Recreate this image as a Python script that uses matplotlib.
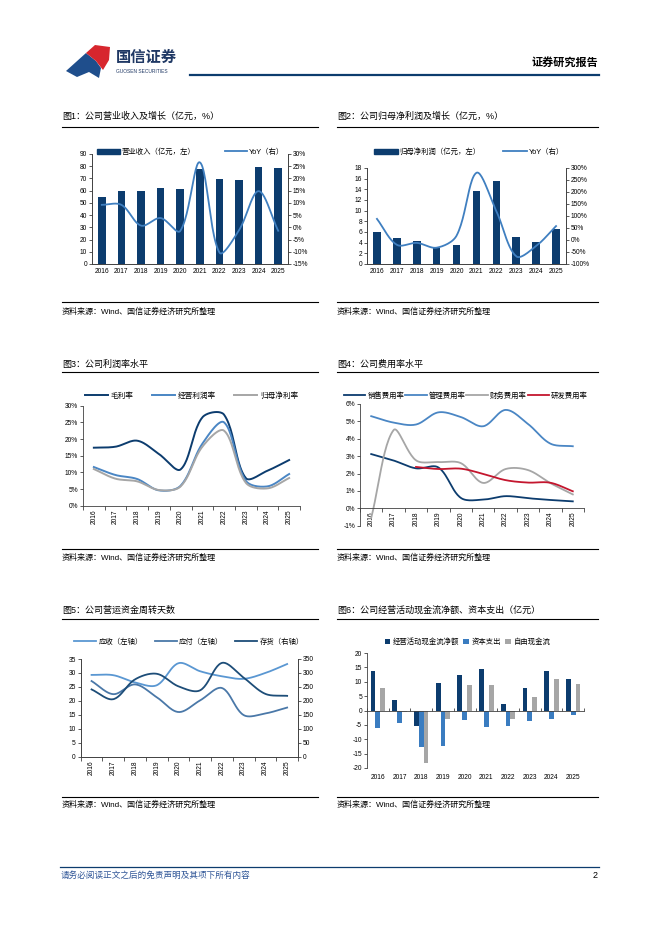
import numpy as np
import matplotlib.pyplot as plt
from matplotlib.patches import Polygon, Patch
from matplotlib.lines import Line2D
from matplotlib.ticker import FuncFormatter

plt.rcParams['font.family'] = ['Liberation Sans', 'Noto Sans CJK SC']
plt.rcParams['axes.unicode_minus'] = False

# ---- data ----
years = ['2016', '2017', '2018', '2019', '2020', '2021', '2022', '2023', '2024', '2025']

revenue = [54.5, 59.5, 59.8, 62.0, 61.3, 77.5, 69.8, 68.8, 79.5, 78.5]
revenue_yoy = [9.2, 9.2, 0.7, 3.8, -1.5, 26.6, -10.3, -1.2, 14.8, -1.4]

net_profit = [6.0, 4.8, 4.3, 3.0, 3.6, 13.7, 15.6, 5.0, 4.1, 6.5]
profit_yoy = [88, -20, -12, -32, 18, 280, 120, -68, -25, 58]

gross_margin = [17.4, 17.7, 19.5, 15.5, 10.9, 26.5, 27.3, 8.3, 10.5, 13.7]
op_margin = [11.6, 9.2, 8.0, 4.6, 6.0, 18.6, 25.0, 7.5, 5.8, 9.5]
net_margin = [11.0, 8.1, 7.3, 4.7, 5.8, 17.7, 22.5, 6.9, 5.2, 8.3]

sales_ratio = [3.12, 2.75, 2.3, 2.35, 0.6, 0.5, 0.7, 0.58, 0.48, 0.4]
admin_ratio = [5.3, 4.93, 4.82, 5.52, 5.25, 4.72, 5.66, 4.85, 3.72, 3.57]
fin_ratio = [-0.55, 4.5, 2.76, 2.66, 2.6, 1.46, 2.26, 2.2, 1.45, 0.8]
rd_ratio = [np.nan, np.nan, 2.38, 2.26, 2.28, 1.98, 1.62, 1.48, 1.47, 0.98]

receivable_days = [29.3, 29.2, 26.6, 25.6, 33.5, 30.6, 28.8, 27.9, 30.0, 33.2]
payable_days = [27.1, 22.4, 25.9, 21.3, 16.0, 20.2, 24.6, 14.9, 15.5, 17.6]
inventory_days = [241, 206, 277, 297, 252, 238, 336, 283, 225, 218]

op_cash = [13.8, 3.8, -5.5, 9.5, 12.2, 14.5, 2.4, 8.0, 13.8, 10.8]
capex = [-6.0, -4.2, -12.7, -12.3, -3.2, -5.8, -5.4, -3.5, -2.8, -1.5]
free_cash = [7.8, -0.4, -18.3, -2.8, 9.0, 8.8, -3.0, 4.6, 11.0, 9.2]

NAVY = '#0C3C6E'
BLUE = '#3F7FC0'
MID = '#4A86C4'
GREY = '#A6A6A6'
RED = '#C4162E'
AXC = '#404040'

W, H = 662, 936
fig = plt.figure(figsize=(W / 100, H / 100), dpi=100)
fig.patch.set_facecolor('white')


def fx(x):
    return x / W


def fy(y):
    return 1 - y / H


def box(x0, y0, x1, y1):
    return [x0 / W, 1 - y1 / H, (x1 - x0) / W, (y1 - y0) / H]


def hline(x0, x1, y, color='black', lw=0.8):
    fig.add_artist(Line2D([fx(x0), fx(x1)], [fy(y), fy(y)],
                          transform=fig.transFigure, color=color, lw=lw))


def smooth(ax, xs, ys, n=24):
    # bezier smoothing in screen space, control arms weighted by chord length
    # (close to what excel does with "smoothed line")
    xs = np.asarray(xs, float)
    ys = np.asarray(ys, float)
    ok = ~np.isnan(ys)
    d = ax.transData.transform(np.column_stack([xs[ok], ys[ok]]))
    m = len(d)
    t = np.linspace(0, 1, n, endpoint=False)[:, None]
    out = []
    for i in range(m - 1):
        p0 = d[i - 1] if i > 0 else d[i]
        p1, p2 = d[i], d[i + 1]
        p3 = d[i + 2] if i + 2 < m else d[i + 1]
        d01 = np.hypot(*(p1 - p0))
        d12 = np.hypot(*(p2 - p1))
        d23 = np.hypot(*(p3 - p2))
        c1 = p1 + (p2 - p0) * (d12 / (d01 + d12)) / 3
        c2 = p2 - (p3 - p1) * (d12 / (d12 + d23)) / 3
        seg = ((1 - t) ** 3 * p1 + 3 * (1 - t) ** 2 * t * c1
               + 3 * (1 - t) * t ** 2 * c2 + t ** 3 * p2)
        out.append(seg)
    out.append(d[-1][None, :])
    out = ax.transData.inverted().transform(np.vstack(out))
    return out[:, 0], out[:, 1]


def style(ax, sides=('left', 'bottom')):
    for s in ['left', 'right', 'top', 'bottom']:
        ax.spines[s].set_visible(s in sides)
        ax.spines[s].set_color(AXC)
        ax.spines[s].set_linewidth(0.6)
    ax.tick_params(labelsize=4.8, length=2, width=0.6, color=AXC, pad=1.5)
    ax.set_facecolor('none')


pct = FuncFormatter(lambda v, p: '%d%%' % v)
x = np.arange(len(years))
bounds = np.arange(len(years) + 1) - 0.5

# ---- header ----
fig.add_artist(Polygon([(fx(66), fy(71)), (fx(86), fy(53)), (fx(96), fy(61)), (fx(101), fy(68)),
                        (fx(99), fy(78)), (fx(89), fy(72)), (fx(77), fy(77))],
                       closed=True, transform=fig.transFigure, color='#1F4E8C', lw=0))
fig.add_artist(Polygon([(fx(86), fy(53)), (fx(95), fy(45)), (fx(110), fy(47)), (fx(109), fy(60)),
                        (fx(103), fy(70)), (fx(96), fy(61))],
                       closed=True, transform=fig.transFigure, color='#D7262E', lw=0))
fig.text(fx(116), fy(58), '国信证券', fontsize=11, color='#1F3864', va='center', weight='bold')
fig.text(fx(116), fy(71.5), 'GUOSEN SECURITIES', fontsize=3.5, color='#1F3864', va='center')
fig.text(fx(598), fy(62), '证券研究报告', fontsize=8, weight='bold', ha='right', va='center')
hline(190, 599, 74.5, color='#0C3C6E', lw=1.6)

# ---- panel frames ----
panels = [
    ('图1：公司营业收入及增长（亿元，%）', 62, 318, 116.5, 126.5, 301.7, 311.7),
    ('图2：公司归母净利润及增长（亿元，%）', 337, 598, 116.5, 126.5, 301.7, 311.7),
    ('图3：公司利润率水平', 62, 318, 364, 372.3, 549, 557.3),
    ('图4：公司费用率水平', 337, 598, 364, 372.3, 549, 557.3),
    ('图5：公司营运资金周转天数', 62, 318, 610.5, 619, 796.7, 804.5),
    ('图6：公司经营活动现金流净额、资本支出（亿元）', 337, 598, 610.5, 619, 796.7, 804.5),
]
for title, x0, x1, yt, yl, ys, ysrc in panels:
    fig.text(fx(x0), fy(yt), title, fontsize=6.5, va='center')
    hline(x0, x1, yl, lw=0.8)
    hline(x0, x1, ys, lw=0.8)
    fig.text(fx(x0), fy(ysrc), '资料来源：Wind、国信证券经济研究所整理', fontsize=5.8, va='center')

# ---- chart 1 ----
ax1 = fig.add_axes(box(92, 154, 288, 264))
style(ax1, ('left', 'right', 'bottom'))
ax1.bar(x, revenue, width=0.38, color=NAVY)
ax1.set_xlim(-0.5, 9.5)
ax1.set_ylim(0, 90)
ax1.set_yticks(np.arange(0, 91, 10))
ax1.set_xticks(x, years)
ax1.tick_params(axis='x', length=0, pad=3)
ax1b = ax1.twinx()
style(ax1b, ('left', 'right', 'bottom'))
ax1b.set_xlim(-0.5, 9.5)
ax1b.set_ylim(-15, 30)
ax1b.set_yticks(np.arange(-15, 31, 5))
ax1b.yaxis.set_major_formatter(pct)
sx, sy = smooth(ax1b, x, revenue_yoy)
ax1b.plot(sx, sy, color=BLUE, lw=1.3)
fig.legend([Patch(color=NAVY), Line2D([], [], color=BLUE, lw=1.3)],
           ['营业收入（亿元，左）', 'YoY（右）'], loc='center', bbox_to_anchor=(fx(191), fy(152)),
           ncol=2, frameon=False, fontsize=5.3, handlelength=3.0, handletextpad=0.3,
           columnspacing=4.0, borderpad=0)

# ---- chart 2 ----
ax2 = fig.add_axes(box(367, 168, 566, 264))
style(ax2, ('left', 'right', 'bottom'))
ax2.bar(x, net_profit, width=0.38, color=NAVY)
ax2.set_xlim(-0.5, 9.5)
ax2.set_ylim(0, 18)
ax2.set_yticks(np.arange(0, 19, 2))
ax2.set_xticks(x, years)
ax2.tick_params(axis='x', length=0, pad=3)
ax2b = ax2.twinx()
style(ax2b, ('left', 'right', 'bottom'))
ax2b.set_xlim(-0.5, 9.5)
ax2b.set_ylim(-100, 300)
ax2b.set_yticks(np.arange(-100, 301, 50))
ax2b.yaxis.set_major_formatter(pct)
sx, sy = smooth(ax2b, x, profit_yoy)
ax2b.plot(sx, sy, color=BLUE, lw=1.3)
fig.legend([Patch(color=NAVY), Line2D([], [], color=BLUE, lw=1.3)],
           ['归母净利润（亿元，左）', 'YoY（右）'], loc='center', bbox_to_anchor=(fx(469), fy(152)),
           ncol=2, frameon=False, fontsize=5.3, handlelength=3.2, handletextpad=0.3,
           columnspacing=3.0, borderpad=0)

# ---- chart 3 ----
ax3 = fig.add_axes(box(83, 405.7, 300, 505.7))
style(ax3)
ax3.set_xlim(-0.5, 9.5)
ax3.set_ylim(0, 30)
for vals, c, lab in [(gross_margin, NAVY, '毛利率'), (op_margin, MID, '经营利润率'),
                     (net_margin, GREY, '归母净利率')]:
    sx, sy = smooth(ax3, x, vals)
    ax3.plot(sx, sy, color=c, lw=1.4, label=lab)
ax3.set_yticks(np.arange(0, 31, 5))
ax3.yaxis.set_major_formatter(pct)
ax3.set_xticks(x, years, rotation=90)
ax3.set_xticks(bounds, minor=True)
ax3.tick_params(axis='x', which='major', length=0, pad=3)
ax3.tick_params(axis='x', which='minor', length=3, width=0.6, color=AXC)
ax3.legend(loc='center', bbox_to_anchor=(fx(191.5), fy(396)), bbox_transform=fig.transFigure,
           ncol=3, frameon=False, fontsize=5.5, handlelength=3.0, handletextpad=0.4,
           columnspacing=2.4, borderpad=0)

# ---- chart 4 ----
ax4 = fig.add_axes(box(360, 404, 584, 525.7))
style(ax4)
ax4.spines['bottom'].set_position(('data', 0))
ax4.set_xlim(-0.5, 9.5)
ax4.set_ylim(-1, 6)
for vals, c, lab in [(sales_ratio, NAVY, '销售费用率'), (admin_ratio, MID, '管理费用率'),
                     (fin_ratio, GREY, '财务费用率'), (rd_ratio, RED, '研发费用率')]:
    sx, sy = smooth(ax4, x, vals)
    ax4.plot(sx, sy, color=c, lw=1.3, label=lab)
ax4.set_yticks(np.arange(-1, 7, 1))
ax4.yaxis.set_major_formatter(pct)
ax4.set_xticks(x, years, rotation=90)
ax4.set_xticks(bounds, minor=True)
ax4.tick_params(axis='x', which='major', length=0, pad=2)
ax4.tick_params(axis='x', which='minor', length=3, width=0.6, color=AXC)
ax4.legend(loc='center', bbox_to_anchor=(fx(466), fy(396)), bbox_transform=fig.transFigure,
           ncol=4, frameon=False, fontsize=5.3, handlelength=2.9, handletextpad=0.3,
           columnspacing=0.1, borderpad=0)

# ---- chart 5 ----
ax5 = fig.add_axes(box(80.7, 659, 298, 756.7))
style(ax5, ('left', 'right', 'bottom'))
ax5.set_xlim(-0.5, 9.5)
ax5.set_ylim(0, 35)
sx, sy = smooth(ax5, x, receivable_days)
l1, = ax5.plot(sx, sy, color='#5A97D2', lw=1.3)
sx, sy = smooth(ax5, x, payable_days)
l2, = ax5.plot(sx, sy, color='#4A78A8', lw=1.3)
ax5.set_yticks(np.arange(0, 36, 5))
ax5.set_xticks(x, years, rotation=90)
ax5.set_xticks(bounds, minor=True)
ax5.tick_params(axis='x', which='major', length=0, pad=3)
ax5.tick_params(axis='x', which='minor', length=3, width=0.6, color=AXC)
ax5b = ax5.twinx()
style(ax5b, ('left', 'right', 'bottom'))
ax5b.set_xlim(-0.5, 9.5)
ax5b.set_ylim(0, 350)
sx, sy = smooth(ax5b, x, inventory_days)
l3, = ax5b.plot(sx, sy, color='#1D4D78', lw=1.3)
ax5b.set_yticks(np.arange(0, 351, 50))
fig.legend([l1, l2, l3], ['应收（左轴）', '应付（左轴）', '存货（右轴）'], loc='center',
           bbox_to_anchor=(fx(189), fy(642)), ncol=3, frameon=False, fontsize=5.3,
           handlelength=3.0, handletextpad=0.3, columnspacing=1.6, borderpad=0)

# ---- chart 6 ----
ax6 = fig.add_axes(box(367, 653, 584, 768))
style(ax6)
bw = 0.22
ax6.bar(x - bw, op_cash, width=bw, color=NAVY, label='经营活动现金流净额')
ax6.bar(x, capex, width=bw, color='#3A7CC0', label='资本支出')
ax6.bar(x + bw, free_cash, width=bw, color=GREY, label='自由现金流')
ax6.spines['bottom'].set_position(('data', 0))
ax6.set_xlim(-0.5, 9.5)
ax6.set_ylim(-20, 20)
ax6.set_yticks(np.arange(-20, 21, 5))
ax6.set_xticks(x)
ax6.set_xticks(bounds, minor=True)
ax6.tick_params(axis='x', which='major', length=0, labelbottom=False)
ax6.tick_params(axis='x', which='minor', length=2, width=0.6, color=AXC, direction='in')
sec = ax6.secondary_xaxis('bottom')
sec.set_xticks(x, years)
sec.tick_params(length=0, labelsize=4.8, pad=4)
sec.spines['bottom'].set_visible(False)
ax6.legend(loc='center', bbox_to_anchor=(fx(467.5), fy(642)), bbox_transform=fig.transFigure,
           ncol=3, frameon=False, fontsize=5.3, handlelength=0.7, handleheight=0.7,
           handletextpad=0.4, columnspacing=0.6, borderpad=0)

# ---- footer ----
hline(60, 599, 866.5, color='#0C3C6E', lw=0.9)
fig.text(fx(61), fy(875), '请务必阅读正文之后的免责声明及其项下所有内容', fontsize=6.2,
         color='#2F5597', va='center')
fig.text(fx(598), fy(875), '2', fontsize=6.5, ha='right', va='center')

fig.savefig('out.png', dpi=100)
